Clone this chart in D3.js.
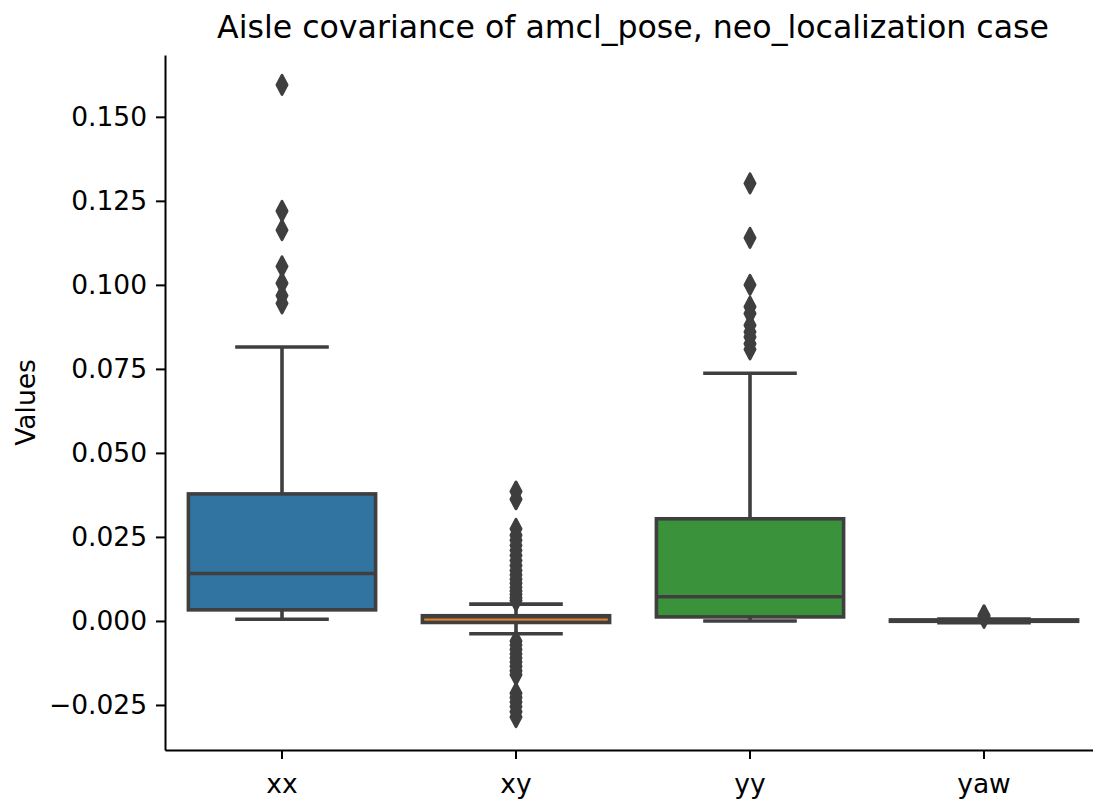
<!DOCTYPE html>
<html lang="en">
<head>
<meta charset="utf-8">
<title>Aisle covariance of amcl_pose</title>
<script src="https://cdn.jsdelivr.net/npm/d3@7"></script>
<style>
  body { margin: 0; background: #fff; }
  svg { display: block; font-family: "DejaVu Sans", sans-serif; }
</style>
</head>
<body>
<div id="chart"></div>
<script>
  // categories and box statistics
  const categories = ['xx', 'xy', 'yy', 'yaw'];
  const colors = ['#3274a1', '#e1812c', '#3a923a', '#c03d3e'];
  const whiskerLow  = [0.0005, -0.0038, 0.0000, -0.0005];
  const q1          = [0.0033, -0.00045, 0.0012, -0.0001];
  const median      = [0.0141, 0.0013, 0.0072, 0.0001];
  const q3          = [0.0378, 0.00155, 0.0304, 0.0003];
  const whiskerHigh = [0.0815, 0.0050, 0.0737, 0.0006];
  const outliers = [
    [0.1595, 0.1220, 0.1163, 0.1055, 0.1005, 0.0968, 0.0945],
    [0.0385, 0.0362, 0.0274, 0.0255, 0.0240, 0.0225, 0.0210, 0.0195, 0.0180, 0.0165,
     0.0150, 0.0137, 0.0124, 0.0112, 0.0100, 0.0089, 0.0079, 0.0069, 0.0061,
     -0.0060, -0.0072, -0.0085, -0.0098, -0.0110, -0.0122, -0.0135, -0.0148, -0.0160,
     -0.0215, -0.0228, -0.0241, -0.0255, -0.0270, -0.0286],
    [0.1302, 0.1140, 0.1000, 0.0935, 0.0915, 0.0880, 0.0860, 0.0845, 0.0825, 0.0808],
    [0.0017, 0.0013, 0.0009]
  ];
  const yTicks = [-0.025, 0, 0.025, 0.05, 0.075, 0.1, 0.125, 0.15];
  const yDomain = [-0.0384, 0.1684];

  const width = 1093, height = 803;
  const margin = { top: 55, left: 165, bottom: 53 };
  const axRight = 1101; // axes runs past the right edge of the picture
  const gray = '#3f3f3f';
  const lw = 3.6;

  const svg = d3.select('#chart').append('svg')
    .attr('width', width).attr('height', height);
  svg.append('rect').attr('width', width).attr('height', height).attr('fill', '#fff');

  const y = d3.scaleLinear().domain(yDomain).range([height - margin.bottom, margin.top]);
  const x = d3.scaleBand().domain(categories).range([margin.left, axRight]).padding(0);

  const boxW = x.bandwidth() * 0.8;
  const capW = boxW / 2;

  const rows = categories.map((c, i) => ({
    name: c, color: colors[i], lo: whiskerLow[i], q1: q1[i], med: median[i],
    q3: q3[i], hi: whiskerHigh[i], out: outliers[i]
  }));

  const box = svg.append('g').selectAll('g').data(rows).join('g')
    .attr('transform', d => `translate(${x(d.name) + x.bandwidth() / 2},0)`);

  box.append('rect')
    .attr('x', -boxW / 2)
    .attr('width', boxW)
    .attr('y', d => y(d.q3))
    .attr('height', d => y(d.q1) - y(d.q3))
    .attr('fill', d => d.color)
    .attr('stroke', gray).attr('stroke-width', lw);

  // whiskers
  box.append('line').attr('y1', d => y(d.q3)).attr('y2', d => y(d.hi))
    .attr('stroke', gray).attr('stroke-width', lw);
  box.append('line').attr('y1', d => y(d.q1)).attr('y2', d => y(d.lo))
    .attr('stroke', gray).attr('stroke-width', lw);

  // caps
  ['hi', 'lo'].forEach(k => {
    box.append('line')
      .attr('x1', -capW / 2).attr('x2', capW / 2)
      .attr('y1', d => y(d[k])).attr('y2', d => y(d[k]))
      .attr('stroke', gray).attr('stroke-width', lw);
  });

  // median
  box.append('line')
    .attr('x1', -boxW / 2).attr('x2', boxW / 2)
    .attr('y1', d => y(d.med)).attr('y2', d => y(d.med))
    .attr('stroke', gray).attr('stroke-width', lw);

  // fliers, thin diamonds
  const dw = 5, dh = 9.5;
  box.selectAll('path.flier').data(d => d.out).join('path')
    .attr('class', 'flier')
    .attr('d', v => `M0,${y(v) - dh}L${dw},${y(v)}L0,${y(v) + dh}L${-dw},${y(v)}Z`)
    .attr('fill', gray)
    .attr('stroke', gray).attr('stroke-width', 3).attr('stroke-linejoin', 'round');

  // axes
  const fs = 26.5;
  const yAxis = svg.append('g')
    .attr('transform', `translate(${margin.left},0)`)
    .call(d3.axisLeft(y).tickValues(yTicks).tickFormat(d3.format('.3f'))
      .tickSize(9).tickPadding(9).tickSizeOuter(0));
  yAxis.selectAll('text').attr('font-size', fs).attr('fill', '#000').attr('font-family', 'DejaVu Sans');
  yAxis.selectAll('line').attr('stroke', '#000').attr('stroke-width', 2);
  yAxis.select('.domain').attr('stroke', '#000').attr('stroke-width', 2);

  const xAxis = svg.append('g')
    .attr('transform', `translate(0,${height - margin.bottom})`)
    .call(d3.axisBottom(x).tickSize(9).tickPadding(9).tickSizeOuter(0));
  xAxis.selectAll('text').attr('font-size', fs).attr('fill', '#000').attr('font-family', 'DejaVu Sans')
    .attr('dy', '0.95em');
  xAxis.selectAll('line').attr('stroke', '#000').attr('stroke-width', 2);
  xAxis.select('.domain').attr('stroke', '#000').attr('stroke-width', 2);

  svg.append('text')
    .attr('x', 25).attr('y', (margin.top + height - margin.bottom) / 2)
    .attr('transform', `rotate(-90,25,${(margin.top + height - margin.bottom) / 2})`)
    .attr('text-anchor', 'middle').attr('dominant-baseline', 'central')
    .attr('font-size', fs).text('Values');

  svg.append('text')
    .attr('x', (margin.left + axRight) / 2).attr('y', 38)
    .attr('text-anchor', 'middle')
    .attr('font-size', 31.6).text('Aisle covariance of amcl_pose, neo_localization case');
</script>
</body>
</html>
